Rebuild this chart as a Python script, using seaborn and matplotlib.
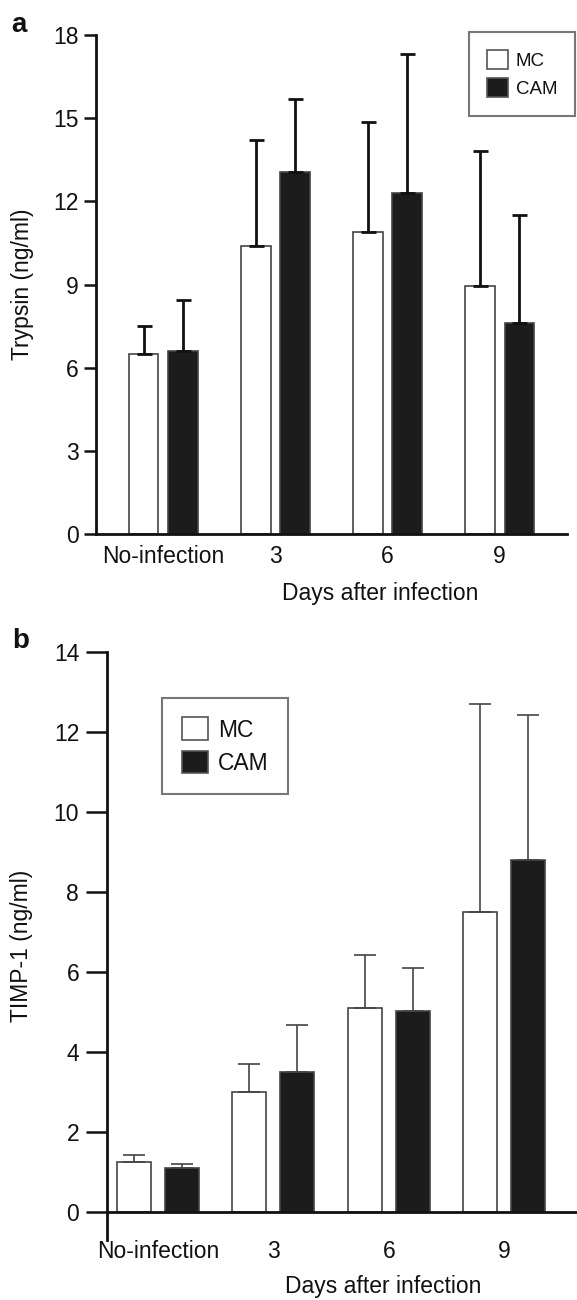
import pandas as pd
import matplotlib.pyplot as plt
import seaborn as sns

days = ["No-infection", "3", "6", "9"]
groups = ["MC", "CAM"]

# panel a: trypsin (ng/ml), bar height and top of error bar
trypsin_mc = [6.5, 10.4, 10.9, 8.95]
trypsin_cam = [6.6, 13.05, 12.3, 7.6]
trypsin_mc_top = [7.5, 14.2, 14.85, 13.8]
trypsin_cam_top = [8.45, 15.7, 17.3, 11.5]

# panel b: TIMP-1 (ng/ml)
timp_mc = [1.25, 3.0, 5.1, 7.5]
timp_cam = [1.1, 3.5, 5.03, 8.8]
timp_mc_top = [1.42, 3.7, 6.42, 12.7]
timp_cam_top = [1.2, 4.67, 6.1, 12.42]

sns.set_style("ticks")
plt.rcParams["font.family"] = ["Liberation Sans", "DejaVu Sans"]
for k in ["text.color", "axes.labelcolor", "axes.edgecolor",
          "xtick.color", "ytick.color"]:
    plt.rcParams[k] = "#111111"

palette = {"MC": "white", "CAM": "#1c1c1c"}
FS = 16.5


def make_df(mc, cam):
    return pd.DataFrame({
        "day": days * 2,
        "group": ["MC"] * len(days) + ["CAM"] * len(days),
        "value": list(mc) + list(cam),
    })


def draw_panel(ax, mc, cam, mc_top, cam_top, width, gap, err_color, err_lw, capsize):
    sns.barplot(data=make_df(mc, cam), x="day", y="value", hue="group",
                hue_order=groups, palette=palette, width=width, gap=gap,
                edgecolor="#444444", linewidth=1.2, ax=ax, legend=True)
    for cont, vals, tops in zip(ax.containers, [mc, cam], [mc_top, cam_top]):
        xs = [b.get_x() + b.get_width() / 2 for b in cont]
        up = [t - v for v, t in zip(vals, tops)]
        ax.errorbar(xs, vals, yerr=[[0] * len(vals), up], fmt="none",
                    ecolor=err_color, elinewidth=err_lw, capsize=capsize,
                    capthick=err_lw, zorder=1)


fig = plt.figure(figsize=(5.77, 13), dpi=100)

# ---- panel a
ax1 = fig.add_axes([0.1664, 0.5892, 0.8163, 0.3839])
draw_panel(ax1, trypsin_mc, trypsin_cam, trypsin_mc_top, trypsin_cam_top,
           0.7, 0.25, "#111111", 2.0, 5.4)
ax1.set_xlim(-0.6, 3.6)
ax1.set_ylim(0, 18)
ax1.set_yticks(range(0, 19, 3))
sns.despine(ax=ax1)
for s in ["left", "bottom"]:
    ax1.spines[s].set_linewidth(2)
ax1.tick_params(axis="y", length=8.6, width=1.8, pad=4, labelsize=FS)
ax1.tick_params(axis="x", length=0, pad=8, labelsize=FS)
ax1.set_xlabel("Days after infection", fontsize=FS, va="center")
ax1.xaxis.set_label_coords(0.603, -0.12)
ax1.set_ylabel("Trypsin (ng/ml)", fontsize=FS, va="center")
ax1.yaxis.set_label_coords(-0.157, 0.5)
leg1 = ax1.legend(loc="upper left", bbox_to_anchor=(0.8128, 0.9754),
                  bbox_transform=fig.transFigure, borderaxespad=0,
                  fontsize=13.5, frameon=True, fancybox=False,
                  edgecolor="#555555", handlelength=1.15, handleheight=1.2,
                  borderpad=0.95, labelspacing=0.45, handletextpad=0.4)
leg1.get_frame().set_linewidth(1.5)
for h in leg1.legend_handles:
    h.set_edgecolor("#555555")
fig.text(0.02, 0.981, "a", fontsize=20, fontweight="bold", va="center")

# ---- panel b
ax2 = fig.add_axes([0.1854, 0.0462, 0.8146, 0.4525])
draw_panel(ax2, timp_mc, timp_cam, timp_mc_top, timp_cam_top,
           0.83, 0.29, "#444444", 1.2, 7.9)
ax2.set_xlim(-0.44, 3.63)
ax2.set_ylim(-0.7, 14)
ax2.set_yticks(range(0, 15, 2))
sns.despine(ax=ax2)
ax2.spines["bottom"].set_position(("data", 0))
for s in ["left", "bottom"]:
    ax2.spines[s].set_linewidth(2)
ax2.tick_params(axis="y", length=15, width=1.8, pad=5, labelsize=FS)
ax2.tick_params(axis="x", length=0, pad=20, labelsize=FS)
ax2.set_xlabel("Days after infection", fontsize=FS, va="center")
ax2.xaxis.set_label_coords(0.587, -0.08)
ax2.set_ylabel("TIMP-1 (ng/ml)", fontsize=FS, va="center")
ax2.yaxis.set_label_coords(-0.181, 0.5)
leg2 = ax2.legend(loc="upper left", bbox_to_anchor=(0.2808, 0.4631),
                  bbox_transform=fig.transFigure, borderaxespad=0,
                  fontsize=16.5, frameon=True, fancybox=False,
                  edgecolor="#555555", handlelength=1.15, handleheight=1.15,
                  borderpad=0.85, labelspacing=0.4, handletextpad=0.45)
leg2.get_frame().set_linewidth(1.5)
for h in leg2.legend_handles:
    h.set_edgecolor("#555555")
fig.text(0.022, 0.507, "b", fontsize=20, fontweight="bold", va="center")

fig.savefig("out.png", dpi=100)
